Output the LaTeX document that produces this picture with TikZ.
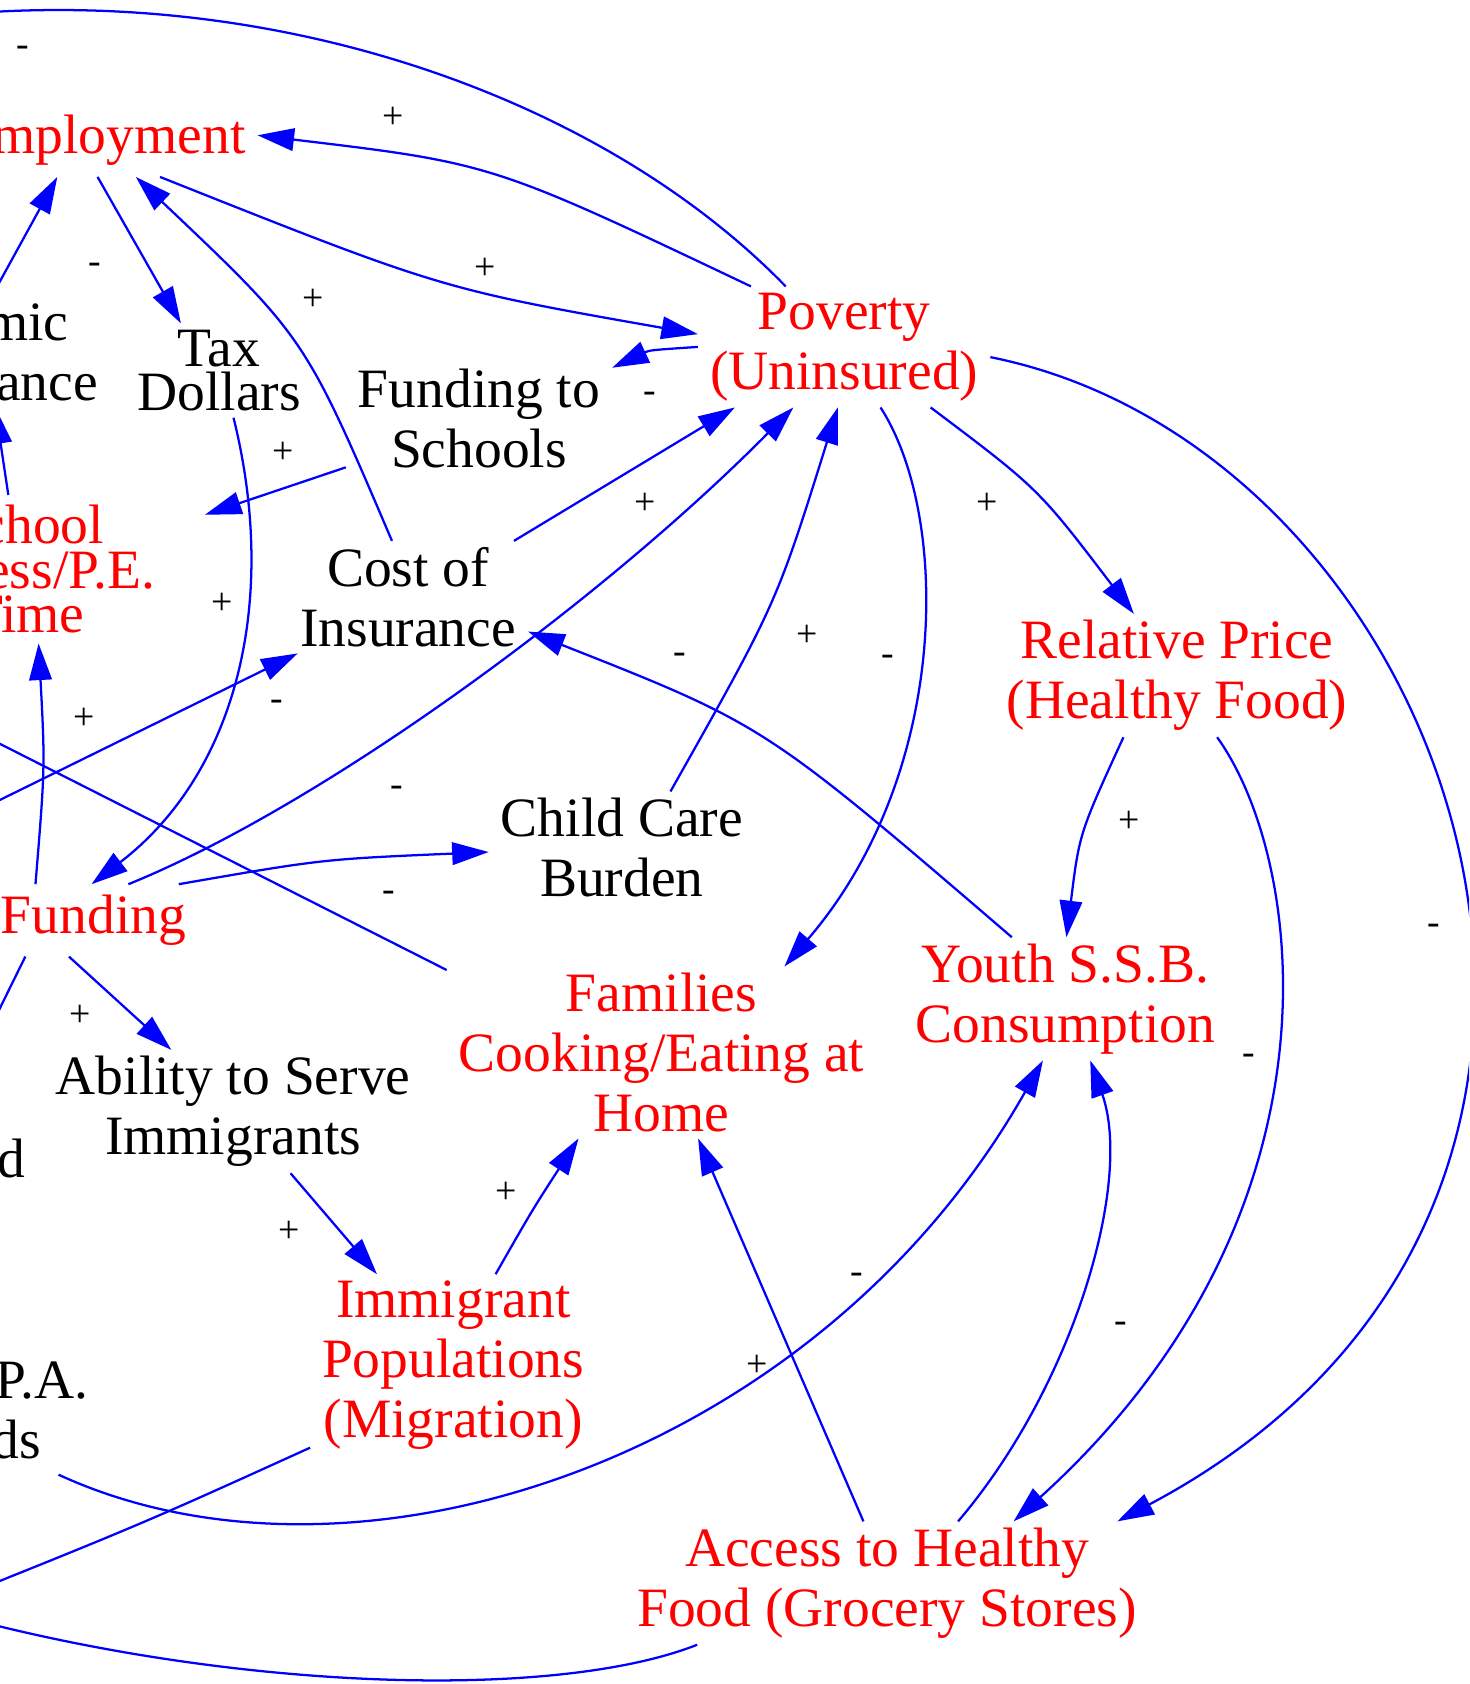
\documentclass[tikz,border=0pt]{standalone}
\usepackage{fontspec}
\setmainfont{Liberation Serif}
\usetikzlibrary{arrows.meta}
\begin{document}
\begin{tikzpicture}[x=0.01cm, y=-0.01cm,
		var/.style={align=center, inner xsep=3pt, inner ysep=1.5pt, font=\fontsize{14.7}{15.9}\selectfont},
		hot/.style={var, text=red},
		cold/.style={var, text=black},
		tight/.style={font=\fontsize{14.7}{11.8}\selectfont},
		single/.style={minimum height=0.66cm},
		link/.style={draw=blue, line width=0.6pt, -{Triangle[length=3.4mm, width=2.1mm]}},
		sgn/.style={font=\fontsize{10}{12}\selectfont, inner sep=0pt}]
	\useasboundingbox (0,0) rectangle (1368,1568);
	\clip (0,0) rectangle (1368,1568);
	
	\node[hot, single] (emp) at (95,131) {Employment};
	\node[cold] (acad) at (-41,327) {Academic\\Performance};
	\node[hot] (pov) at (786,323) {Poverty\\(Uninsured)};
	\node[cold, tight] (tax) at (204,345) {Tax\\Dollars};
	\node[cold] (fsch) at (446,390) {Funding to\\Schools};
	\node[hot, tight, inner ysep=2.5pt, minimum width=3.3cm] (sch) at (25,530) {School\\Recess/P.E.\\Time};
	\node[cold] (cost) at (380,556) {Cost of\\Insurance};
	\node[hot] (rel) at (1096,629) {Relative Price\\(Healthy Food)};
	\node[cold] (child) at (579,789) {Child Care\\Burden};
	\node[hot, single] (fund) at (87,857) {Funding};
	\node[hot] (youth) at (992,930) {Youth S.S.B.\\Consumption};
	\node[hot] (fam) at (616,980) {Families\\Cooking/Eating at\\Home};
	\node[cold] (abil) at (217,1035) {Ability to Serve\\Immigrants};
	\node[hot] (immig) at (422,1271) {Immigrant\\Populations\\(Migration)};
	\node[hot] (access) at (826,1474) {Access to Healthy\\Food (Grocery Stores)};
	\node[cold, anchor=base east, inner sep=0pt] (dfrag) at (24,1096) {d};
	\node[cold, align=right, anchor=north east, inner xsep=0pt, inner ysep=4pt] (pa) at (83,1253) {P.A.\\ds\hspace*{0.44cm}};
	
	\coordinate (offTop) at (-100,20);
	\coordinate (offFund) at (-50,1040);
	\coordinate (offCost) at (-100,794);
	\coordinate (offFam) at (-100,642);
	\coordinate (offImmig) at (-120,1520);
	\coordinate (offAccess) at (-150,1470);
	
	\draw[link] (pov.147) .. controls (458,152) .. (emp.2) node[sgn] at (366,110) {+};
	\draw[link] (emp.-32) .. controls (411,269) .. (pov.175) node[sgn] at (452,250) {+};
	\draw[link] (pov.134) .. controls (560,90) and (250,-20) .. (offTop) node[sgn] at (21,48) {-};
	\draw[link] (pov.180) .. controls (605,326) .. (fsch.21) node[sgn] at (605,370) {-};
	\draw[link] (cost.28) -- (pov.-151) node[sgn] at (601,469) {+};
	\draw[link] (fund.46) .. controls (300,750) and (560,560) .. (pov.-130) node[sgn] at (369,737) {-};
	\draw[link] (child.49) .. controls (723,562) .. (pov.-96) node[sgn] at (752,592) {+};
	\draw[link] (pov.-59) .. controls (885,480) and (885,720) .. (fam.35) node[sgn] at (827,615) {-};
	\draw[link] (pov.-35) .. controls (967,455) .. (rel.125) node[sgn] at (919,469) {+};
	\draw[link] (rel.-131) .. controls (1005,776) .. (youth.89) node[sgn] at (1051,765) {+};
	\draw[link] (youth.131) .. controls (712,675) .. (cost.-16) node[sgn] at (633,613) {-};
	\draw[link] (rel.-57) .. controls (1215,800) and (1260,1130) .. (access.26) node[sgn] at (1163,986) {-};
	\draw[link] (pov.-4) .. controls (1360,420) and (1600,1120) .. (access.15) node[sgn] at (1335,865) {-};
	\draw[link] (access.41) .. controls (1000,1290) and (1055,1100) .. (youth.-68) node[sgn] at (1044,1236) {-};
	\draw[link] (pa.-74) .. controls (330,1500) and (760,1360) .. (youth.-110) node[sgn] at (798,1190) {-};
	\draw[link] (access.111) -- (fam.-67) node[sgn] at (705,1272) {+};
	\draw[link] (immig.65) .. controls (496,1126) .. (fam.-134) node[sgn] at (471,1111) {+};
	\draw[link] (abil.-47) -- (immig.130) node[sgn] at (269,1147) {+};
	\draw[link] (fund.-124) -- (abil.135) node[sgn] at (75,946) {+};
	\draw[link] (fund.-152) -- (offFund);
	\draw[link] (fund.148) .. controls (42,714) .. (sch.-81) node[sgn] at (78,669) {+};
	\draw[link] (sch.104) -- (acad.-55);
	\draw[link] (fsch.-160) -- (sch.17) node[sgn] at (264,422) {+};
	\draw[link] (tax.-73) .. controls (260,560) and (220,720) .. (fund.93) node[sgn] at (207,562) {+};
	\draw[link] (emp.-97) -- (tax.129) node[sgn] at (88,250) {-};
	\draw[link] (acad.57) -- (emp.-141);
	\draw[link] (cost.106) .. controls (284,314) .. (emp.-47) node[sgn] at (292,279) {+};
	\draw[link] (fund.23) .. controls (300,800) .. (child.-178) node[sgn] at (362,835) {-};
	\draw[link] (offCost) -- (cost.-153) node[sgn] at (258,657) {-};
	\draw[link] (fam.159) -- (offFam);
	\draw[link] (immig.-150) .. controls (130,1420) .. (offImmig);
	\draw[link] (access.-162) .. controls (500,1590) and (150,1570) .. (offAccess);
\end{tikzpicture}
\end{document}
